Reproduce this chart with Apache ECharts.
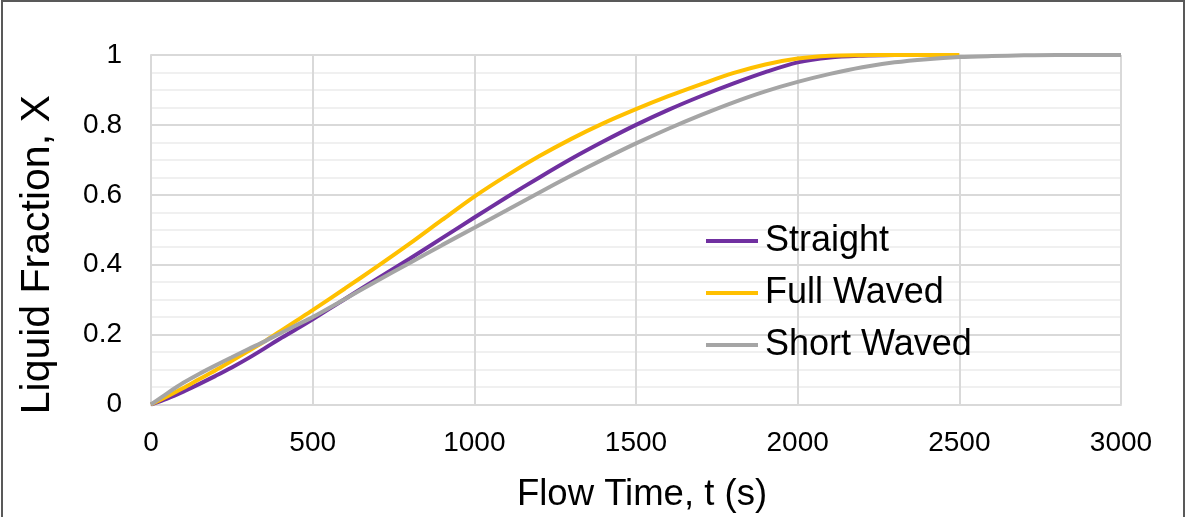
<!DOCTYPE html>
<html>
<head>
<meta charset="utf-8">
<script src="https://cdn.jsdelivr.net/npm/echarts@6/dist/echarts.min.js"></script>
<style>
  html, body { margin: 0; padding: 0; background: #fff; }
  #frame { position: absolute; left: 1px; top: 0; width: 1184px; height: 517px; box-sizing: border-box; border: 2px solid #595959; border-bottom: none; }
  #chart { position: absolute; left: 0; top: 0; width: 1187px; height: 517px; }
</style>
</head>
<body>
<div id="chart"></div>
<div id="frame"></div>
<script>
const seriesNames = ['Straight', 'Full Waved', 'Short Waved'];

const straightT = [0, 50, 100, 150, 200, 250, 300, 350, 400, 450, 500, 600, 700, 800, 900, 1000, 1100, 1200, 1300, 1400, 1500, 1600, 1700, 1800, 1900, 2000, 2100, 2200, 2300];
const straightX = [0, 0.017, 0.037, 0.059, 0.082, 0.106, 0.132, 0.16, 0.189, 0.216, 0.244, 0.302, 0.36, 0.417, 0.476, 0.535, 0.593, 0.649, 0.703, 0.753, 0.8, 0.843, 0.882, 0.918, 0.951, 0.979, 0.993, 0.998, 1.0];

const fullT = [0, 50, 100, 150, 200, 250, 300, 350, 400, 450, 500, 600, 700, 800, 900, 1000, 1100, 1200, 1300, 1400, 1500, 1600, 1700, 1800, 1900, 2000, 2100, 2200, 2300, 2400, 2500];
const fullX = [0, 0.023, 0.047, 0.073, 0.098, 0.125, 0.152, 0.18, 0.21, 0.24, 0.27, 0.332, 0.395, 0.46, 0.528, 0.595, 0.655, 0.71, 0.76, 0.805, 0.845, 0.882, 0.916, 0.948, 0.973, 0.99, 0.998, 0.9995, 1.0, 1.0, 1.0];

const shortT = [0, 50, 100, 150, 200, 250, 300, 350, 400, 450, 500, 600, 700, 800, 900, 1000, 1100, 1200, 1300, 1400, 1500, 1600, 1700, 1800, 1900, 2000, 2100, 2200, 2300, 2400, 2500, 2600, 2700, 2800, 2900, 3000];
const shortX = [0, 0.032, 0.062, 0.088, 0.112, 0.135, 0.158, 0.18, 0.204, 0.227, 0.25, 0.302, 0.354, 0.405, 0.456, 0.506, 0.556, 0.606, 0.655, 0.702, 0.747, 0.789, 0.828, 0.864, 0.896, 0.923, 0.946, 0.965, 0.979, 0.988, 0.994, 0.997, 0.999, 1.0, 1.0, 1.0];

const xTicks = [0, 500, 1000, 1500, 2000, 2500, 3000];
const yTicks = [0, 0.2, 0.4, 0.6, 0.8, 1];

const colors = ['#7030a0', '#ffc000', '#a5a5a5'];
const FONT = '"Liberation Sans", Arial, sans-serif';

function pairs(t, x) { return t.map((v, i) => [v, x[i]]); }

const chart = echarts.init(document.getElementById('chart'), null, { renderer: 'canvas' });
chart.setOption({
  animation: false,
  backgroundColor: '#fff',
  textStyle: { fontFamily: FONT },
  grid: { left: 151, right: 66, top: 55, bottom: 112.5, containLabel: false, outerBoundsMode: 'none' },
  xAxis: {
    type: 'value', min: xTicks[0], max: xTicks[xTicks.length - 1], interval: 500,
    name: 'Flow Time, t (s)', nameLocation: 'middle', nameGap: 72,
    nameTextStyle: { fontFamily: FONT, fontSize: 36.5, color: '#000', padding: [0, 0, 0, 12] },
    axisLine: { show: true, lineStyle: { color: '#d9d9d9', width: 2 } },
    axisTick: { show: false },
    axisLabel: { fontFamily: FONT, fontSize: 28, color: '#000', margin: 25,
      formatter: v => xTicks.includes(v) ? String(v) : '' },
    splitLine: { show: true, lineStyle: { color: '#d9d9d9', width: 2 } }
  },
  yAxis: {
    type: 'value', min: 0, max: 1, interval: 0.2,
    name: 'Liquid Fraction, X', nameLocation: 'middle', nameGap: 93, nameRotate: 90,
    nameTextStyle: { fontFamily: FONT, fontSize: 41, color: '#000', padding: [0, 50, 0, 0] },
    axisLine: { show: true, lineStyle: { color: '#d9d9d9', width: 2 } },
    axisTick: { show: false },
    axisLabel: { fontFamily: FONT, fontSize: 28, color: '#000', margin: 29,
      formatter: v => { const r = Math.round(v * 10) / 10; return yTicks.includes(r) ? String(r) : ''; } },
    splitLine: { show: true, lineStyle: { color: '#d9d9d9', width: 2 } },
    minorTick: { show: false, splitNumber: 4 },
    minorSplitLine: { show: true, lineStyle: { color: '#f0f0f0', width: 2 } }
  },
  legend: {
    orient: 'vertical', left: 706, top: 215, padding: 0,
    icon: 'rect', itemWidth: 52, itemHeight: 4, itemGap: 0,
    data: seriesNames,
    textStyle: { fontFamily: FONT, fontSize: 36, color: '#000', lineHeight: 52, padding: [0, 0, 0, 2] }
  },
  series: [
    { name: seriesNames[0], type: 'line', data: pairs(straightT, straightX), showSymbol: false, smooth: 0.3,
      lineStyle: { color: colors[0], width: 4 }, itemStyle: { color: colors[0] }, z: 2 },
    { name: seriesNames[1], type: 'line', data: pairs(fullT, fullX), showSymbol: false, smooth: 0.3,
      lineStyle: { color: colors[1], width: 4 }, itemStyle: { color: colors[1] }, z: 3 },
    { name: seriesNames[2], type: 'line', data: pairs(shortT, shortX), showSymbol: false, smooth: 0.3,
      lineStyle: { color: colors[2], width: 4 }, itemStyle: { color: colors[2] }, z: 4 }
  ]
});
</script>
</body>
</html>
